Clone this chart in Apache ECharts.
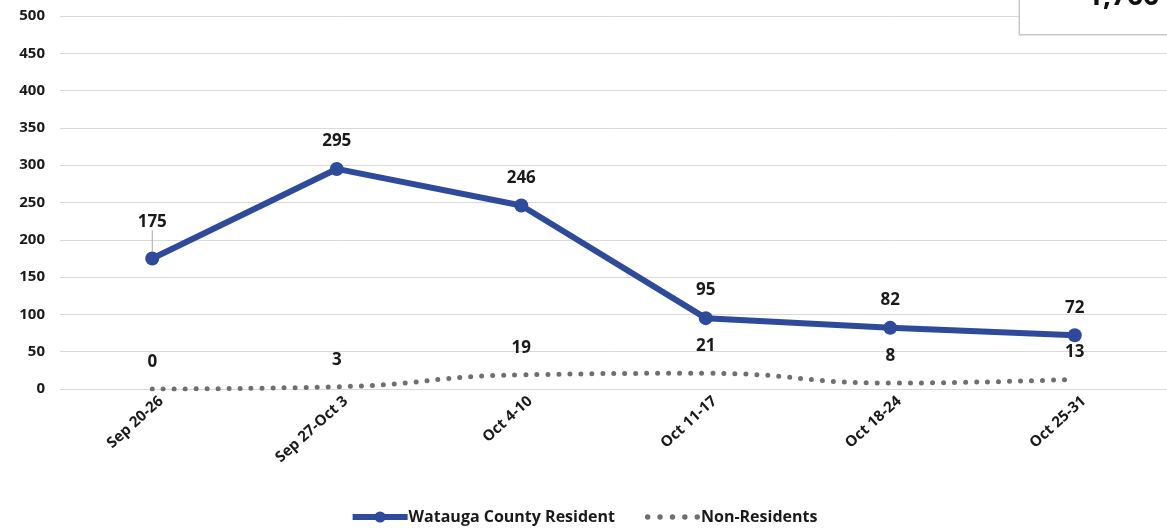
<!DOCTYPE html>
<html>
<head>
<meta charset="utf-8">
<script src="https://cdn.jsdelivr.net/npm/echarts@6/dist/echarts.min.js"></script>
<style>
  html, body { margin: 0; padding: 0; background: #fff; }
  #chart { width: 1167px; height: 531px; }
</style>
</head>
<body>
<div id="chart"></div>
<script>
// weekly counts, residents vs non-residents
const weeks = ['Sep 20-26', 'Sep 27-Oct 3', 'Oct 4-10', 'Oct 11-17', 'Oct 18-24', 'Oct 25-31']
const residents = [175, 295, 246, 95, 82, 72]
const nonResidents = [0, 3, 19, 21, 8, 13]
const boxText = '1,766'

const font = 'Open Sans'
const dark = '#1a1a1a'
const blue = '#2e4a9b'
const grey = '#6f6f6f'

// five dots for the non-resident legend icon
const dotsIcon = 'path://' + [0, 1, 2, 3, 4].map(i => {
  const cx = 3 + i * 11
  return 'M' + (cx - 2.4) + ' 7a2.4 2.4 0 1 0 4.8 0a2.4 2.4 0 1 0 -4.8 0z'
}).join('')

const chart = echarts.init(document.getElementById('chart'))

const options = {
  animation: false,
  textStyle: { fontFamily: font },
  grid: {
    left: 60,
    right: 0,
    top: 16,
    bottom: 142,
  },
  legend: {
    bottom: 1,
    left: 'center',
    itemWidth: 55,
    itemHeight: 14,
    itemGap: 30,
    textStyle: {
      color: dark,
      fontSize: 16,
      fontWeight: 'bold',
      fontFamily: font,
      padding: [0, 0, 0, -4],
    },
    data: [
      { name: 'Watauga County Resident', lineStyle: { width: 6 } },
      { name: 'Non-Residents', icon: dotsIcon, itemStyle: { color: grey } },
    ],
  },
  xAxis: {
    type: 'category',
    data: weeks,
    axisLine: { show: false },
    axisTick: { show: false },
    axisLabel: {
      rotate: 42,
      margin: 18,
      color: dark,
      fontSize: 15,
      fontWeight: 'bold',
      fontFamily: font,
      padding: [0, -12, 0, 0],
    },
  },
  yAxis: {
    type: 'value',
    min: 0,
    max: 500,
    interval: 50,
    axisLine: { show: false },
    axisTick: { show: false },
    axisLabel: {
      margin: 15,
      color: dark,
      fontSize: 15,
      fontWeight: 'bold',
      fontFamily: font,
    },
    splitLine: {
      lineStyle: { color: '#d9d9d9', width: 1 }
    },
  },
  series: [
    {
      name: 'Non-Residents',
      type: 'line',
      smooth: true,
      symbol: 'circle',
      symbolSize: 1,
      data: nonResidents,
      lineStyle: {
        color: grey,
        width: 5,
        type: [0, 11],
        cap: 'round',
      },
      itemStyle: { color: 'rgba(0,0,0,0)' },
      label: {
        show: true,
        position: 'top',
        distance: 18,
        color: dark,
        fontSize: 17,
        fontWeight: 'bold',
        fontFamily: font,
      },
    },
    {
      name: 'Watauga County Resident',
      type: 'line',
      symbol: 'circle',
      symbolSize: 14,
      data: residents.map((v, i) => i === 0 ? { value: v, labelLine: { show: true } } : v),
      lineStyle: { color: blue, width: 6 },
      itemStyle: { color: blue },
      label: {
        show: true,
        position: 'top',
        distance: 12,
        color: dark,
        fontSize: 17,
        fontWeight: 'bold',
        fontFamily: font,
      },
      labelLine: {
        show: false,
        lineStyle: { color: '#aaa', width: 1 }
      },
      labelLayout: function (params) {
        if (params.dataIndex === 0) return { dy: -9 }
      },
      z: 3,
    },
  ],
  graphic: [
    {
      type: 'rect',
      right: -10,
      top: -10,
      shape: { width: 157, height: 44 },
      style: { fill: '#fff', stroke: '#c8c8c8', lineWidth: 1.5 },
      z: 10,
    },
    {
      type: 'text',
      right: 8,
      top: -17,
      style: {
        text: boxText,
        fill: '#111',
        font: 'bold 28px "Open Sans"',
      },
      z: 11,
    },
  ],
}

chart.setOption(options)
</script>
</body>
</html>
